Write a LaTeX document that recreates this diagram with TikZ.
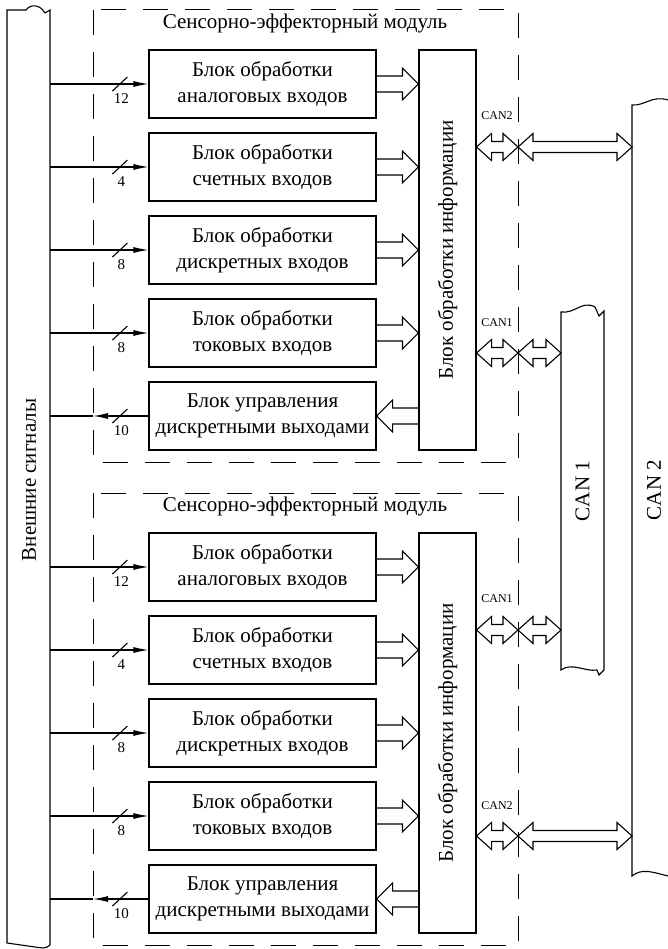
\documentclass[tikz,border=0pt]{standalone}
\usepackage{fontspec}
\setmainfont{Liberation Serif}
\usetikzlibrary{arrows.meta,calc}

% hollow arrow: #1 tail, #2 tip, #3 = 1 (to the right) or -1 (to the left)
\newcommand{\fatarrow}[3]{%
  \draw ($(#1)+(0,-8)$) -- ($(#2)+({-16*(#3)},-8)$) -- ($(#2)+({-16*(#3)},-16)$) -- (#2)
    -- ($(#2)+({-16*(#3)},16)$) -- ($(#2)+({-16*(#3)},8)$) -- ($(#1)+(0,8)$);}
% hollow double arrow: #1 left tip, #2 right tip
\newcommand{\fatdarrow}[2]{%
  \draw (#1) -- ($(#1)+(15,-13.5)$) -- ($(#1)+(15,-5.5)$) -- ($(#2)+(-15,-5.5)$)
    -- ($(#2)+(-15,-13.5)$) -- (#2) -- ($(#2)+(-15,13.5)$) -- ($(#2)+(-15,5.5)$)
    -- ($(#1)+(15,5.5)$) -- ($(#1)+(15,13.5)$) -- cycle;}

\begin{document}
\begin{tikzpicture}[x=1pt, y=-1pt, line width=1.1pt,
  every node/.style={font=\fontsize{21}{26}\selectfont},
  blk/.style={draw, minimum width=227, minimum height=68, align=center, inner sep=0},
  module/.style={line width=1pt, dash pattern=on 25pt off 17pt},
  sig/.style={-{Latex[length=15pt,width=6pt]}},
  num/.style={font=\fontsize{15}{15}\selectfont, inner sep=0},
  canlbl/.style={font=\fontsize{12}{12}\selectfont, inner sep=0}]
\useasboundingbox (0,0) rectangle (668,949);

% external signals
\draw (50,945) -- (50,10) -- (45,13) .. controls (40,4) and (30,4) .. (26,10) -- (7,10)
  -- (7,943) -- (35,947) .. controls (42,948) and (46,949) .. (50,945);
\node[rotate=90] (ext) at (29,480) {Внешние сигналы};
\coordinate (extR) at (50,0);

% buses
\draw (561,312) .. controls (575,314) and (582,300) .. (595,307) -- (599,316) -- (604,311)
  -- (604,670) -- (599,675) -- (597,670) .. controls (585,672) and (572,662) .. (561,670) -- cycle;
\node[rotate=90] (can1) at (582.5,491) {CAN 1};
\draw (668,100) .. controls (652,95) and (645,106) .. (632,105) -- (632,876)
  .. controls (642,868) and (652,872) .. (668,876);
\node[rotate=90] (can2) at (654,490) {CAN 2};
\coordinate (canL1) at (561,0);
\coordinate (canL2) at (632,0);

\foreach \m/\dy/\up/\lo in {a/0/2/1, b/483/1/2} {
  \begin{scope}[shift={(0,\dy)}]
    \draw[module] (93,10) rectangle (518,462.5);
    \coordinate (l\m) at (93,10);
    \node (title\m) at (305,23) {Сенсорно-эффекторный модуль};
    \node[blk, minimum width=57, minimum height=400] (inf\m) at (447.5,250) {};
    \node[rotate=90] (inft\m) at (inf\m) {Блок обработки информации};
    \foreach \i/\txt/\cnt in {1/{Блок обработки\\аналоговых входов}/12,
        2/{Блок обработки\\счетных входов}/4, 3/{Блок обработки\\дискретных входов}/8,
        4/{Блок обработки\\токовых входов}/8} {
      \node[blk] (b\m\i) at (262.5,{1+83*\i}) {\txt};
      \draw[sig] (b\m\i.west -| extR) -- (b\m\i.west);
      \draw ($(b\m\i.west)+(-36,7)$) -- ($(b\m\i.west)+(-21,-7)$);
      \node[num] (n\m\i) at ($(b\m\i.west)+(-27,15)$) {\cnt};
      \fatarrow{b\m\i.east}{b\m\i.east -| inf\m.west}{1}
    }
    \node[blk] (b\m5) at (262.5,416) {Блок управления\\дискретными выходами};
    \draw[sig] (b\m5.west) -- (b\m5.west -| l\m);
    \draw (b\m5.west -| l\m) -- (b\m5.west -| extR);
    \draw ($(b\m5.west)+(-36,7)$) -- ($(b\m5.west)+(-21,-7)$);
    \node[num] (n\m5) at ($(b\m5.west)+(-27,15)$) {10};
    \fatarrow{inf\m.west |- b\m5.east}{b\m5.east}{-1}
    % CAN links
    \coordinate (pu\m) at (518,147);
    \coordinate (pl\m) at (518,353);
    \fatdarrow{inf\m.east |- pu\m}{pu\m}
    \fatdarrow{pu\m}{pu\m -| canL\up}
    \fatdarrow{inf\m.east |- pl\m}{pl\m}
    \fatdarrow{pl\m}{pl\m -| canL\lo}
    \node[canlbl] (cu\m) at ($(pu\m)+(-21,-31)$) {CAN\up};
    \node[canlbl] (cl\m) at ($(pl\m)+(-21,-30)$) {CAN\lo};
  \end{scope}
}
\end{tikzpicture}
\end{document}
